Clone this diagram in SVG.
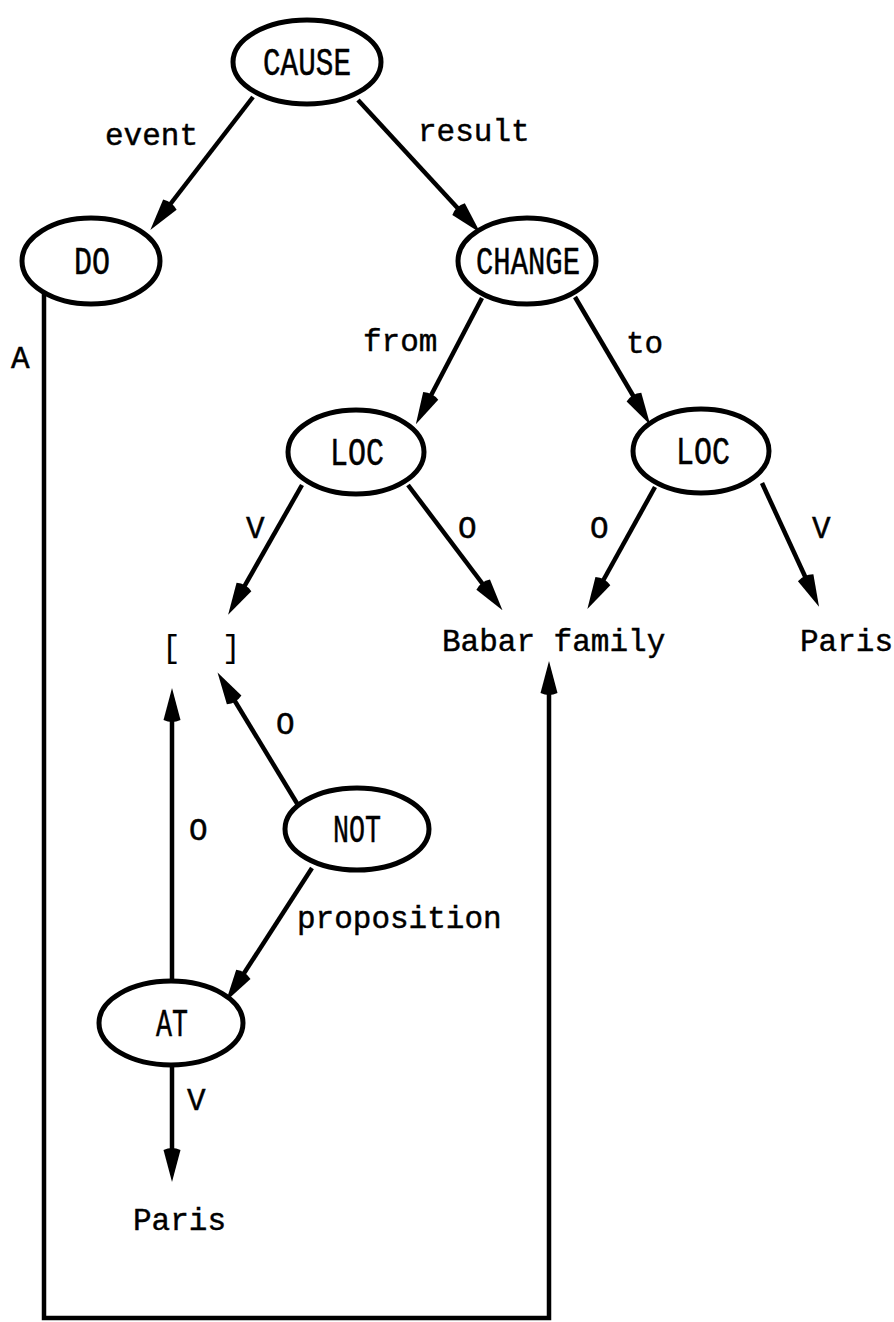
<svg xmlns="http://www.w3.org/2000/svg" width="894" height="1322" viewBox="0 0 894 1322">
<style>
.node ellipse{fill:#fff;stroke:#000;stroke-width:5}
.node text{font-family:"Liberation Mono","DejaVu Sans Mono",monospace;font-size:38px;text-anchor:middle;fill:#000;stroke:#000;stroke-width:0.5}
.lbl{font-family:"Liberation Mono","DejaVu Sans Mono",monospace;font-size:31px;fill:#000;stroke:#000;stroke-width:0.45}
.edge{fill:none;stroke:#000;stroke-width:4.5}
</style>
<defs>
<marker id="ah" viewBox="0 0 36 18" refX="12" refY="9" markerWidth="36" markerHeight="18" markerUnits="userSpaceOnUse" orient="auto">
<path d="M36,9 L4,0.5 Q0,9 4,17.5 Z" fill="#000"/>
</marker>
</defs>
<rect width="894" height="1322" fill="#fff"/>
<g id="connectors">
<line class="edge" x1="253" y1="97" x2="165" y2="211" marker-end="url(#ah)"/>
<line class="edge" x1="358" y1="100" x2="464" y2="215" marker-end="url(#ah)"/>
<line class="edge" x1="482" y1="298" x2="427" y2="403" marker-end="url(#ah)"/>
<line class="edge" x1="575" y1="297" x2="638" y2="404" marker-end="url(#ah)"/>
<line class="edge" x1="302" y1="485" x2="240" y2="594" marker-end="url(#ah)"/>
<line class="edge" x1="408" y1="485" x2="488" y2="591" marker-end="url(#ah)"/>
<line class="edge" x1="655" y1="487" x2="599" y2="588" marker-end="url(#ah)"/>
<line class="edge" x1="762" y1="483" x2="809" y2="585" marker-end="url(#ah)"/>
<line class="edge" x1="172" y1="982" x2="172" y2="712" marker-end="url(#ah)"/>
<line class="edge" x1="298" y1="805" x2="230" y2="693" marker-end="url(#ah)"/>
<line class="edge" x1="312" y1="868" x2="239" y2="981" marker-end="url(#ah)"/>
<line class="edge" x1="172" y1="1066" x2="172" y2="1158" marker-end="url(#ah)"/>
<path class="edge" d="M44,291 V1318 H549 V685" marker-end="url(#ah)"/>
</g>
<g id="edge-labels">
<text class="lbl" x="105" y="145">event</text>
<text class="lbl" x="418" y="141">result</text>
<text class="lbl" x="363" y="351">from</text>
<text class="lbl" x="626" y="353">to</text>
<text class="lbl" x="11" y="368">A</text>
<text class="lbl" x="246" y="538">V</text>
<text class="lbl" x="458" y="538">O</text>
<text class="lbl" x="590" y="538">O</text>
<text class="lbl" x="812" y="538">V</text>
<text class="lbl" x="276" y="734">O</text>
<text class="lbl" x="189" y="840">O</text>
<text class="lbl" x="297" y="928">proposition</text>
<text class="lbl" x="187" y="1110">V</text>
</g>
<g id="n-cause" class="node"><ellipse cx="307" cy="62" rx="74" ry="42"/><text x="307" y="75" textLength="88" lengthAdjust="spacingAndGlyphs">CAUSE</text></g>
<g id="n-do" class="node"><ellipse cx="91" cy="261" rx="69" ry="43"/><text x="92" y="274" textLength="36" lengthAdjust="spacingAndGlyphs">DO</text></g>
<g id="n-change" class="node"><ellipse cx="527" cy="261" rx="69" ry="43"/><text x="528" y="274" textLength="104" lengthAdjust="spacingAndGlyphs">CHANGE</text></g>
<g id="n-loc1" class="node"><ellipse cx="356" cy="452" rx="68" ry="42"/><text x="357" y="465" textLength="54" lengthAdjust="spacingAndGlyphs">LOC</text></g>
<g id="n-loc2" class="node"><ellipse cx="701" cy="451" rx="68" ry="42"/><text x="703" y="464" textLength="54" lengthAdjust="spacingAndGlyphs">LOC</text></g>
<g id="n-not" class="node"><ellipse cx="357" cy="829" rx="72" ry="41"/><text x="357" y="842" textLength="48" lengthAdjust="spacingAndGlyphs">NOT</text></g>
<g id="n-at" class="node"><ellipse cx="171" cy="1023" rx="72" ry="42"/><text x="172" y="1036" textLength="32" lengthAdjust="spacingAndGlyphs">AT</text></g>
<g id="n-slot"><text class="lbl" style="stroke-width:0.1"><tspan x="162" y="657">[</tspan><tspan x="222" y="657">]</tspan></text></g>
<g id="n-babar"><text class="lbl" x="442" y="651">Babar family</text></g>
<g id="n-paris1"><text class="lbl" x="800" y="651">Paris</text></g>
<g id="n-paris2"><text class="lbl" x="133" y="1230">Paris</text></g>
</svg>
